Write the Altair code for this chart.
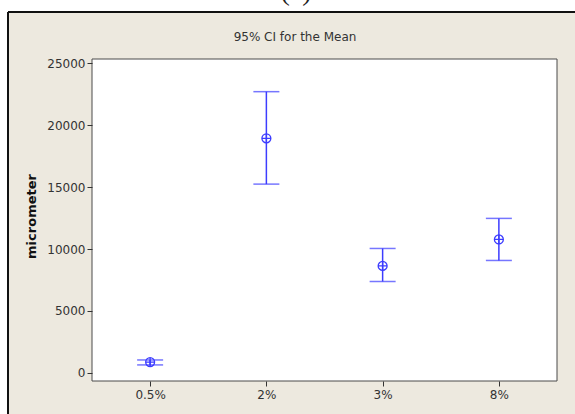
import altair as alt
import pandas as pd

# Group labels and 95% confidence intervals for the mean (micrometer)
groups = ["0.5%", "2%", "3%", "8%"]
mean = [870, 18950, 8640, 10780]
lower = [640, 15250, 7380, 9080]
upper = [1040, 22720, 10050, 12480]

y_ticks = [0, 5000, 10000, 15000, 20000, 25000]

df = pd.DataFrame({"group": groups, "mean": mean, "lower": lower, "upper": upper})
single = pd.DataFrame({"k": [0]})  # one row for the decorative layers

W, H = 465, 322
PAD = {"left": 92, "top": 59, "right": 18, "bottom": 33}
BLUE = "#3c3cff"
FONT = "DejaVu Sans"

x_enc = alt.X(
    "group:N",
    sort=groups,
    scale=alt.Scale(type="point", padding=0.5),
    axis=alt.Axis(
        title=None, labelAngle=0, labelFont=FONT, labelFontSize=12,
        labelColor="#333333", tickColor="#333333", tickSize=5,
        labelPadding=3, domain=False, zindex=1,
    ),
)
y_scale = alt.Scale(domain=[-660, 25360], nice=False, zero=False)
y_axis = alt.Axis(
    title="micrometer", values=y_ticks, format="d", grid=False,
    labelFont=FONT, labelFontSize=12, labelColor="#333333",
    tickColor="#333333", tickSize=5, labelPadding=2, domain=False,
    titleFont=FONT, titleFontSize=13, titleFontWeight="bold",
    titleColor="#111111", titleAngle=-90, titleX=-61, titleY=H / 2 - 4,
    titleAlign="center", titleBaseline="middle", zindex=1,
)

base = alt.Chart(df)
deco = alt.Chart(single)

# beige panel with a dark frame on top and left
panel = deco.mark_rect(color="#ede9df", clip=False).encode(
    x=alt.value(-84), x2=alt.value(W + PAD["right"] + 2),
    y=alt.value(-47), y2=alt.value(H + PAD["bottom"] + 2),
)
frame_top = deco.mark_rule(color="#111111", strokeWidth=2, clip=False).encode(
    x=alt.value(-84), x2=alt.value(W + PAD["right"] + 2), y=alt.value(-47)
)
frame_left = deco.mark_rule(color="#111111", strokeWidth=2, clip=False).encode(
    x=alt.value(-84), y=alt.value(-47), y2=alt.value(H + PAD["bottom"] + 2)
)
# white plotting area
plot_bg = deco.mark_rect(fill="white", stroke="#4a4a4a", strokeWidth=1).encode(
    x=alt.value(0), x2=alt.value(W), y=alt.value(0), y2=alt.value(H)
)

heading = deco.mark_text(
    text="95% CI for the Mean", font=FONT, fontSize=12, fontWeight="normal",
    color="#333333", baseline="middle", align="center", clip=False,
).encode(x=alt.value(203), y=alt.value(-22))

label_a = deco.mark_text(
    text="(a)", font="Liberation Serif", fontSize=28, fontWeight="normal",
    color="#222222", baseline="alphabetic", align="center", clip=False,
).encode(x=alt.value(204), y=alt.value(-59))

whisker = base.mark_rule(color=BLUE, strokeWidth=1.5).encode(
    x=x_enc,
    y=alt.Y("lower:Q", scale=y_scale, axis=y_axis),
    y2="upper:Q",
)
cap_low = base.mark_tick(color=BLUE, size=26, thickness=1.5).encode(
    x=x_enc, y=alt.Y("lower:Q", scale=y_scale)
)
cap_high = base.mark_tick(color=BLUE, size=26, thickness=1.5).encode(
    x=x_enc, y=alt.Y("upper:Q", scale=y_scale)
)
center = base.mark_point(
    shape="M -1 0 A 1 1 0 1 1 1 0 A 1 1 0 1 1 -1 0 Z M -1 0 L 1 0 M 0 -1 L 0 1",
    filled=False, color=BLUE, size=80, strokeWidth=1.3, opacity=1,
).encode(x=x_enc, y=alt.Y("mean:Q", scale=y_scale))

chart = (
    alt.layer(panel, frame_top, frame_left, plot_bg, heading, label_a,
              whisker, cap_low, cap_high, center)
    .properties(
        width=W, height=H,
        autosize=alt.AutoSizeParams(type="none"),
        padding=PAD,
        background="white",
    )
    .configure_view(stroke=None)
)

chart.save("out.html", embed_options={"renderer": "svg", "actions": False})
